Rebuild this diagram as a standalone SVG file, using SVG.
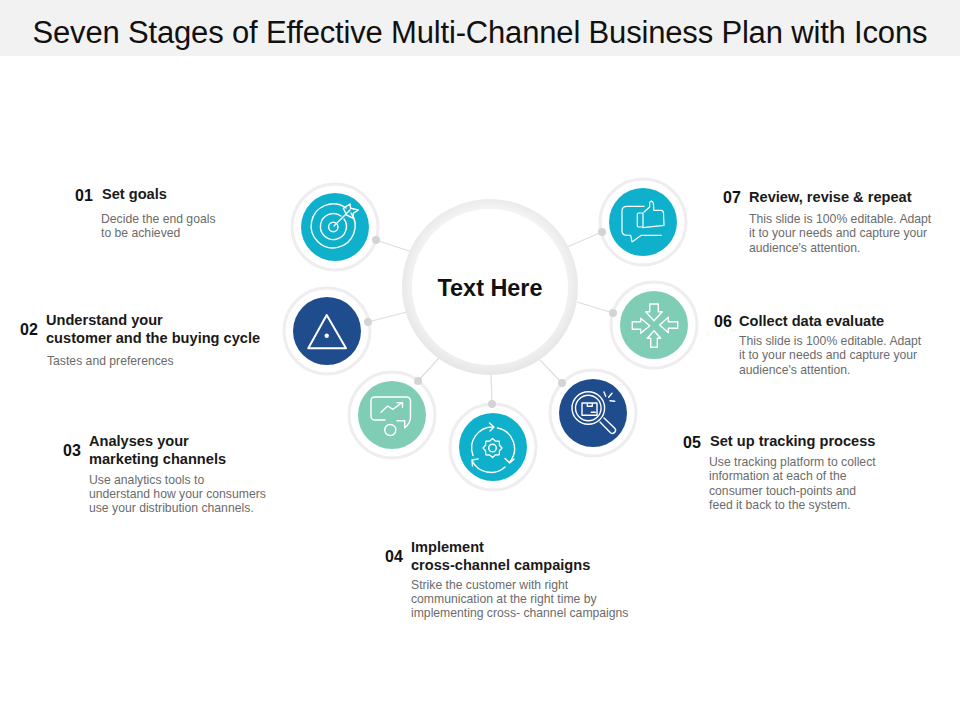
<svg xmlns="http://www.w3.org/2000/svg" width="960" height="720" viewBox="0 0 960 720">
<style>
text{font-family:"Liberation Sans",Arial,sans-serif}
.title{font-size:31px;fill:#111}
.num{font-size:16px;font-weight:700;fill:#111}
.head{font-size:14.6px;font-weight:700;fill:#1a1a1a}
.body{font-size:12.2px;fill:#6b6b6b}
.ring{fill:#fff;stroke:#efedef;stroke-width:3}
.link{stroke:#dedede;stroke-width:1.2;fill:none}
.dot{fill:#d4d4d6}
.ic{fill:none;stroke:#fff;stroke-width:1.4;stroke-linejoin:round;stroke-linecap:round}
.t{fill:#0fb0cb}.n{fill:#1f4c8d}.g{fill:#80cdb5}
</style>
<defs>
<radialGradient id="halo" gradientUnits="userSpaceOnUse" cx="490" cy="284" r="91">
<stop offset="0.84" stop-color="#f3f3f3"/><stop offset="1" stop-color="#e6e6e6"/>
</radialGradient>
</defs>
<rect x="0" y="0" width="960" height="56" fill="#f2f2f2"/>
<text class="title" x="480" y="43" text-anchor="middle" textLength="895" lengthAdjust="spacing">Seven Stages of Effective Multi-Channel Business Plan with Icons</text>

<g id="connectors">
<path class="link" d="M376 240L412 252"/>
<path class="link" d="M368 322L407 312"/>
<path class="link" d="M418 381L439 358"/>
<path class="link" d="M492 404L491 373"/>
<path class="link" d="M562 383L540 360"/>
<path class="link" d="M613 313L577 302"/>
<path class="link" d="M602 232L567 247"/>
</g>

<g id="hub">
<circle cx="490" cy="287" r="88" fill="url(#halo)"/>
<circle cx="490" cy="287" r="78" fill="#fff"/>
<text x="490" y="296" text-anchor="middle" font-size="23.4" font-weight="700" fill="#111">Text Here</text>
</g>

<g id="node-1">
<circle class="ring" cx="335" cy="227" r="43"/><circle class="dot" cx="376" cy="240" r="4"/>
<circle class="t" cx="335" cy="227" r="34"/>
<g class="ic"><path d="M351 213A22 22 0 1 1 346 208"/><path d="M344 219A13 13 0 1 1 341 216"/><circle cx="333.300" cy="227" r="4.700"/><path d="M334 226L350 210"/><path d="M343.300 208.300L350 204L350.700 208.300L358.300 210L353.300 213.300L353.300 218.300L346.700 215Z"/></g>
</g>

<g id="node-2">
<circle class="ring" cx="327" cy="331" r="43"/><circle class="dot" cx="368" cy="322" r="4"/>
<circle class="n" cx="327" cy="331" r="34"/>
<path class="ic" style="stroke-width:2" d="M326.700 315L308.300 348.300H346Z"/><circle cx="326.700" cy="335.700" r="2.200" fill="#fff"/>
</g>

<g id="node-3">
<circle class="ring" cx="392" cy="415" r="43"/><circle class="dot" cx="418" cy="381" r="4"/>
<circle class="g" cx="392" cy="415" r="34"/>
<g class="ic"><path d="M385 420H375Q371 420 371 416V401Q371 397 375 397H406Q410.500 397 410.500 401V417Q410.500 423 404.700 428V420.700H397"/><path d="M381 412.300L387.700 406L393 409.300L402 402.700M397 402.700H402.500V407.300"/><circle cx="390.300" cy="430" r="5.500"/></g>
</g>

<g id="node-4">
<circle class="ring" cx="493" cy="447" r="43"/><circle class="dot" cx="492" cy="404" r="4"/>
<circle class="t" cx="493" cy="447" r="34"/>
<g class="ic"><path d="M473 455.500A21 21 0 0 1 493 427M489.500 423L494 427L490 431"/><path d="M497.500 428A21 21 0 0 1 509.700 462M505 458.500L509.700 463L514 459"/><path d="M505 467A21 21 0 0 1 472 460.500M472.500 466L472 460L478 459"/>
<path d="M492.500 438.500L495.200 441L499.200 441.300L499.500 445.300L502 448L499.500 450.700L499.200 454.700L495.200 455L492.500 457.500L489.800 455L485.800 454.700L485.500 450.700L483 448L485.500 445.300L485.800 441.300L489.800 441Z"/><circle cx="492.500" cy="448" r="3.800"/></g>
</g>

<g id="node-5">
<circle class="ring" cx="593" cy="413" r="43"/><circle class="dot" cx="562" cy="383" r="4"/>
<circle class="n" cx="593" cy="413" r="34"/>
<g class="ic"><circle cx="588.300" cy="408" r="16.300"/><circle cx="588.300" cy="408" r="12.800"/><path d="M582 403H597V415.300H582ZM587.300 403V406.300H592.300V403M591.300 412.300H595.300"/><path d="M600 422L610.500 432.700Q613 434.500 615 432Q616.500 430 614.500 428L604 418"/><path d="M604 392L605.700 396.300M612 393.300L608.700 397.300M610 400.700L614.700 401.300"/></g>
</g>

<g id="node-6">
<circle class="ring" cx="654" cy="325" r="43"/><circle class="dot" cx="613" cy="313" r="4"/>
<circle class="g" cx="654" cy="325" r="34"/>
<g class="ic"><path d="M649.700 304H658.300V311.700H662.300L654 320.700L645.700 311.700H649.700Z"/><path d="M650.700 347.300H657.300V338.300H660.700L654 330.700L647.300 338.300H650.700Z"/><path d="M632.300 321.700V329.300H640.700V333.300L649.700 325.700L640.700 318.300V321.700Z"/><path d="M677.700 321.700V328.300H668.300V332.700L659.700 325L668.300 317.300V321.700Z"/></g>
</g>

<g id="node-7">
<circle class="ring" cx="643" cy="222" r="43"/><circle class="dot" cx="602" cy="232" r="4"/>
<circle class="t" cx="643" cy="222" r="34"/>
<g class="ic" style="stroke-width:1.2"><path d="M644 206.300H627Q622 206.300 622 211V231Q622 235.300 627 235.300H630.700L632 242L641.300 235.300H661.300"/><path d="M638.500 213H643V227H638.500Q637.300 227 637.300 225.500V214.500Q637.300 213 638.500 213Z"/><path d="M644 212L649.700 207V202.500Q651 200.500 652.300 201.500Q654 203 653.700 210.300H661Q663.500 210.500 663.500 213L664 225.300L643 227.700"/></g>
</g>

<g id="label-1">
<text class="num" x="75" y="201">01</text><text class="head" x="102" y="199">Set goals</text>
<text class="body" x="101" y="223">Decide the end goals</text><text class="body" x="101" y="237">to be achieved</text>
</g>
<g id="label-2">
<text class="num" x="20" y="335">02</text><text class="head" x="46" y="325">Understand your</text><text class="head" x="46" y="343">customer and the buying cycle</text>
<text class="body" x="47" y="365">Tastes and preferences</text>
</g>
<g id="label-3">
<text class="num" x="63" y="456">03</text><text class="head" x="89" y="446">Analyses your</text><text class="head" x="89" y="464">marketing channels</text>
<text class="body" x="89" y="484">Use analytics tools to</text><text class="body" x="89" y="498">understand how your consumers</text><text class="body" x="89" y="512">use your distribution channels.</text>
</g>
<g id="label-4">
<text class="num" x="385" y="562">04</text><text class="head" x="411" y="552">Implement</text><text class="head" x="411" y="570">cross-channel campaigns</text>
<text class="body" x="411" y="589">Strike the customer with right</text><text class="body" x="411" y="603">communication at the right time by</text><text class="body" x="411" y="617">implementing cross- channel campaigns</text>
</g>
<g id="label-5">
<text class="num" x="683" y="448">05</text><text class="head" x="710" y="446">Set up tracking process</text>
<text class="body" x="709" y="466">Use tracking platform to collect</text><text class="body" x="709" y="480">information at each of the</text><text class="body" x="709" y="495">consumer touch-points and</text><text class="body" x="709" y="509">feed it back to the system.</text>
</g>
<g id="label-6">
<text class="num" x="714" y="327">06</text><text class="head" x="739" y="326">Collect data evaluate</text>
<text class="body" x="739" y="345">This slide is 100% editable. Adapt</text><text class="body" x="739" y="359">it to your needs and capture your</text><text class="body" x="739" y="374">audience's attention.</text>
</g>
<g id="label-7">
<text class="num" x="723" y="203">07</text><text class="head" x="749" y="202">Review, revise &amp; repeat</text>
<text class="body" x="749" y="223">This slide is 100% editable. Adapt</text><text class="body" x="749" y="237">it to your needs and capture your</text><text class="body" x="749" y="252">audience's attention.</text>
</g>
</svg>
